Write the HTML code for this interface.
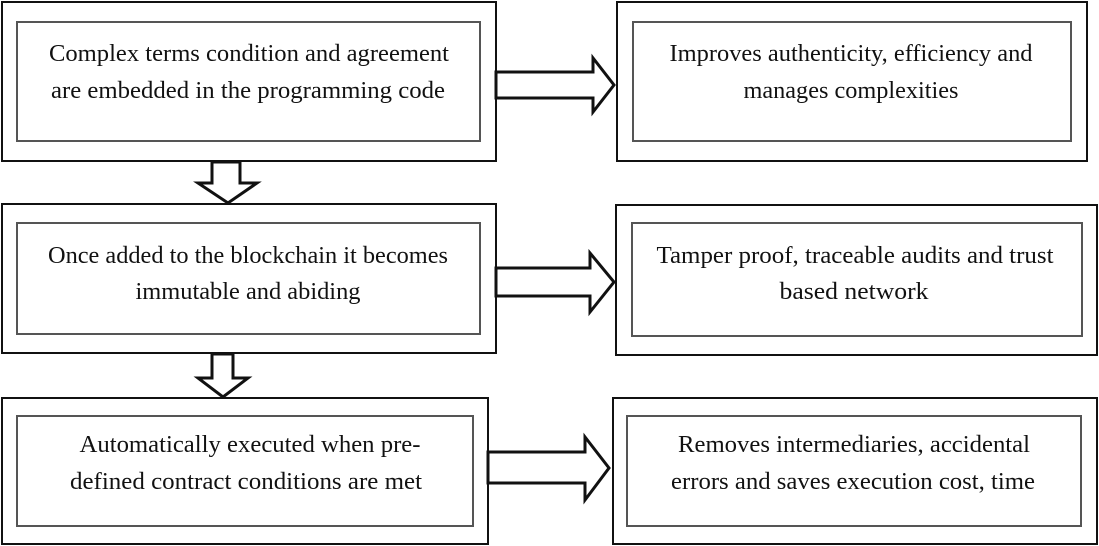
<!DOCTYPE html>
<html><head><meta charset="utf-8"><style>
html,body{margin:0;padding:0;background:#fff;}
svg{display:block;}
text{font-family:"Liberation Serif",serif;font-size:24px;fill:#111;}
</style></head><body>
<svg width="1099" height="546" viewBox="0 0 1099 546" xmlns="http://www.w3.org/2000/svg">
<g fill="none" stroke="#111" stroke-width="2">
<rect x="2" y="2" width="494" height="159"/>
<rect x="17" y="22" width="463" height="119" stroke="#555"/>
<rect x="617" y="2" width="470" height="159"/>
<rect x="633" y="22" width="438" height="119" stroke="#555"/>
<rect x="2" y="204" width="494" height="149"/>
<rect x="17" y="223" width="463" height="111" stroke="#555"/>
<rect x="616" y="205" width="481" height="150"/>
<rect x="632" y="223" width="450" height="113" stroke="#555"/>
<rect x="2" y="398" width="486" height="146"/>
<rect x="17" y="416" width="456" height="110" stroke="#555"/>
<rect x="613" y="398" width="484" height="146"/>
<rect x="627" y="416" width="454" height="110" stroke="#555"/>
</g>
<g fill="#fff" stroke="#111" stroke-width="3" stroke-linejoin="miter">
<polygon points="496,72 593,72 593,58 614,85 593,112 593,98 496,98"/>
<polygon points="496,268 590,268 590,253 614,282 590,312 590,296 496,296"/>
<polygon points="488,452 585,452 585,437 609,468 585,500 585,483 488,483"/>
<polygon points="212,162 240,162 240,183 257,183 228,203 198,183 212,183"/>
<polygon points="212,354 233,354 233,378 248,378 223,397 198,378 212,378"/>
</g>
<text x="249" y="61" text-anchor="middle" textLength="400" lengthAdjust="spacingAndGlyphs">Complex terms condition and agreement</text>
<text x="248" y="98" text-anchor="middle" textLength="394" lengthAdjust="spacingAndGlyphs">are embedded in the programming code</text>
<text x="851" y="61" text-anchor="middle" textLength="363" lengthAdjust="spacingAndGlyphs">Improves authenticity, efficiency and</text>
<text x="851" y="98" text-anchor="middle" textLength="215" lengthAdjust="spacingAndGlyphs">manages complexities</text>
<text x="248" y="263" text-anchor="middle" textLength="400" lengthAdjust="spacingAndGlyphs">Once added to the blockchain it becomes</text>
<text x="248" y="299" text-anchor="middle" textLength="225" lengthAdjust="spacingAndGlyphs">immutable and abiding</text>
<text x="855" y="263" text-anchor="middle" textLength="397" lengthAdjust="spacingAndGlyphs">Tamper proof, traceable audits and trust</text>
<text x="854" y="299" text-anchor="middle" textLength="149" lengthAdjust="spacingAndGlyphs">based network</text>
<text x="250" y="452" text-anchor="middle" textLength="341" lengthAdjust="spacingAndGlyphs">Automatically executed when pre-</text>
<text x="246" y="489" text-anchor="middle" textLength="352" lengthAdjust="spacingAndGlyphs">defined contract conditions are met</text>
<text x="854" y="452" text-anchor="middle" textLength="352" lengthAdjust="spacingAndGlyphs">Removes intermediaries, accidental</text>
<text x="853" y="489" text-anchor="middle" textLength="364" lengthAdjust="spacingAndGlyphs">errors and saves execution cost, time</text>
</svg>
</body></html>
